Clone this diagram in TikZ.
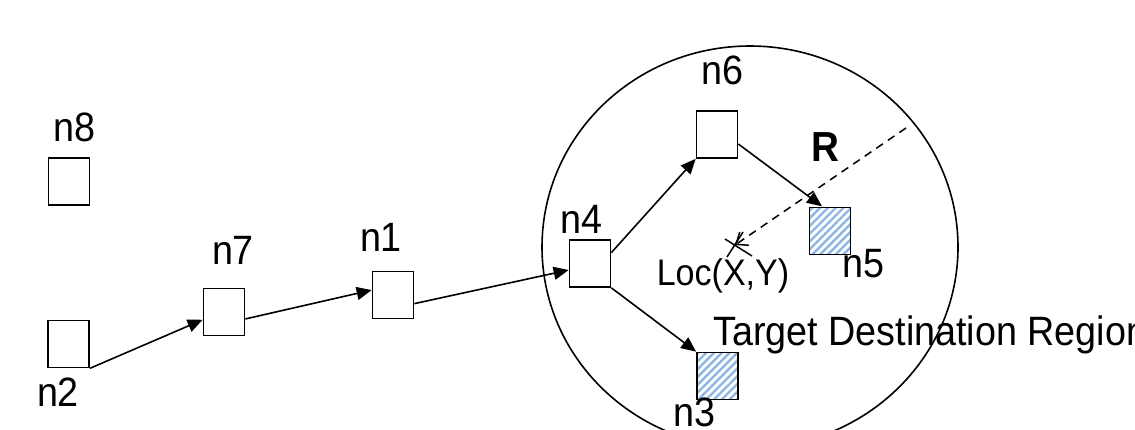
\documentclass[tikz,border=0pt]{standalone}
\usepackage{fontspec}
\setmainfont{Liberation Sans}[FakeStretch=0.92]
\usepackage{tikz}
\usepackage{xcolor}
\usetikzlibrary{shapes.geometric, arrows.meta, positioning, calc, patterns.meta}
\definecolor{hatchblue}{HTML}{8EB4E3}

\begin{document}
\begin{tikzpicture}[
  x=1pt, y=-1pt,
  box/.style={rectangle, draw, line width=1.7pt, minimum width=41pt, minimum height=47pt, inner sep=0pt},
  target/.style={box, pattern={Lines[angle=45, distance=5.5pt, line width=2.4pt]}, pattern color=hatchblue},
  lbl/.style={font=\fontsize{41}{49}\selectfont, inner sep=0pt},
  arrow/.style={-{Triangle[length=15pt, width=13pt]}, line width=1.6pt},
  region/.style={ellipse, draw, line width=1.6pt, minimum width=416pt, minimum height=402pt, inner sep=0pt}
]
  \useasboundingbox (0,0) rectangle (1135,429);

  % Target destination region
  \node[region] (reg) at (750,247) {};
  \node[lbl, anchor=base west] (regtxt) at (713,345) {Target Destination Region};

  % Sensor nodes
  \node[box] (n8) at (69,181.5) {};
  \node[box] (n2) at (68.5,344) {};
  \node[box] (n7) at (224,312) {};
  \node[box] (n1) at (393,295) {};
  \node[box] (n4) at (590,263.5) {};
  \node[box] (n6) at (717,134.5) {};
  \node[target] (n5) at (830,231) {};
  \node[target] (n3) at (717.5,376) {};

  % Node labels
  \node[lbl] (l8) at (74.5,127) {n8};
  \node[lbl] (l2) at (58,392) {n2};
  \node[lbl] (l7) at (233,250) {n7};
  \node[lbl] (l1) at (381,237) {n1};
  \node[lbl] (l4) at (581,219.5) {n4};
  \node[lbl] (l6) at (722,70) {n6};
  \node[lbl] (l5) at (863,264) {n5};
  \node[lbl] (l3) at (694,412) {n3};

  % Forwarding path
  \draw[arrow] (n2.south east) -- (n7.200);
  \draw[arrow] (n7.342) -- (n1.167);
  \draw[arrow] (n1.338) -- (n4.197);
  \draw[arrow] (n4.27) -- (n6.south west);
  \draw[arrow] (n4.south east) -- (n3.north west);
  \draw[arrow] (n6.336) -- (n5.108);

  % Location and radius
  \coordinate (loc) at (735,245);
  \coordinate (redge) at (906,128);
  \draw[line width=1.5pt] ($(loc)+(-10,-6)$) -- ($(loc)+(17,11)$);
  \draw[line width=1.5pt] ($(loc)+(-8,12)$) -- ($(loc)+(8,-13)$);
  \draw[line width=1.5pt, dash pattern=on 8pt off 6pt, -{Straight Barb[length=10pt, width=16pt]}] (redge) -- (loc);
  \node[lbl, font=\fontsize{37}{44}\selectfont] (loctxt) at (723,275.5) {Loc(X,Y)};
  \node[lbl, font=\fontsize{42}{50}\selectfont\bfseries] (rtxt) at (825.5,147.5) {R};
\end{tikzpicture}
\end{document}
